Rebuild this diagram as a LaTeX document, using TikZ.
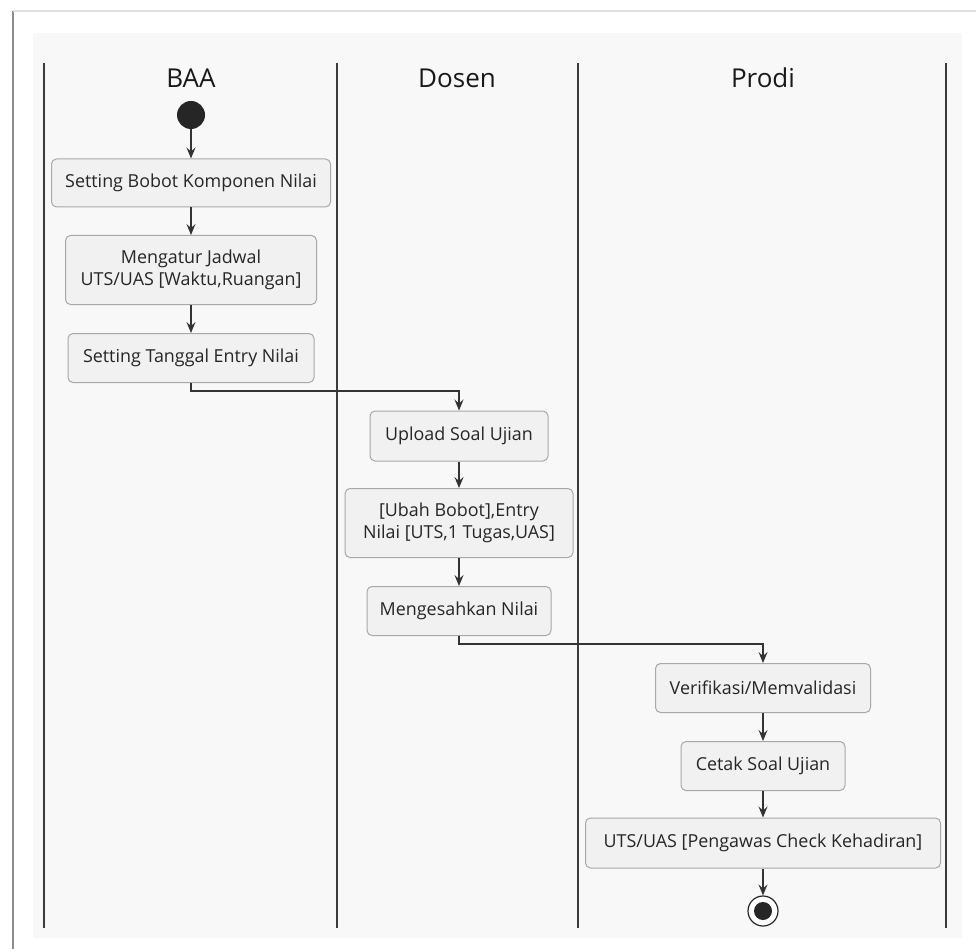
\documentclass[tikz,border=0pt]{standalone}
\usepackage{fontspec}
\setmainfont{Open Sans}
\usetikzlibrary{arrows.meta}
\definecolor{panelbg}{HTML}{F8F8F8}
\definecolor{boxbg}{HTML}{F1F1F1}
\definecolor{boxline}{HTML}{A8A8A8}
\definecolor{laneline}{HTML}{3C3C3C}
\definecolor{flowline}{HTML}{333333}
\begin{document}
\begin{tikzpicture}[x=1pt,y=-1pt,
  activity/.style={draw=boxline,fill=boxbg,rounded corners=5pt,line width=1pt,
    font=\fontsize{17.9}{22}\selectfont,text=black!85,align=center,
    inner xsep=0pt,inner ysep=0pt},
  flow/.style={draw=flowline,line width=1.2pt,-{Stealth[length=11pt,width=9pt,inset=4pt]}},
  lane/.style={draw=laneline,line width=2.8pt},
  title/.style={font=\fontsize{26}{30}\selectfont,text=black!90}]
\useasboundingbox (0,0) rectangle (976,949);
\fill[white] (0,0) rectangle (976,949);
% frame and panel
\draw[black!45,line width=2.5pt] (13,11) -- (13,949);
\draw[black!12,line width=1.2pt] (13,11) -- (976,11);
\fill[panelbg] (33,33) rectangle (962,938);

% swimlanes
\foreach \x in {44,337,578,946}
  \draw[lane] (\x,63) -- (\x,928);
\node[title] (tbaa) at (191,78) {BAA};
\node[title] (tdosen) at (457,78) {Dosen};
\node[title] (tprodi) at (763,78) {Prodi};

% BAA
\node[circle,fill=black!85,minimum size=28pt,inner sep=0pt] (start) at (191,115) {};
\node[activity,minimum width=279pt,minimum height=48pt] (b1) at (191,183) {Setting Bobot Komponen Nilai};
\node[activity,minimum width=251pt,minimum height=69pt] (b2) at (191,270) {Mengatur Jadwal\\UTS/UAS [Waktu,Ruangan]};
\node[activity,minimum width=246pt,minimum height=49pt] (b3) at (191,358) {Setting Tanggal Entry Nilai};

% Dosen
\node[activity,minimum width=178pt,minimum height=50pt] (d1) at (459,436) {Upload Soal Ujian};
\node[activity,minimum width=228pt,minimum height=69pt] (d2) at (459,523) {[Ubah Bobot],Entry\\Nilai [UTS,1 Tugas,UAS]};
\node[activity,minimum width=184pt,minimum height=49pt] (d3) at (459,611) {Mengesahkan Nilai};

% Prodi
\node[activity,minimum width=215pt,minimum height=49pt] (p1) at (763,688) {Verifikasi/Memvalidasi};
\node[activity,minimum width=164pt,minimum height=49pt] (p2) at (763,766) {Cetak Soal Ujian};
\node[activity,minimum width=355pt,minimum height=50pt] (p3) at (763,843) {UTS/UAS [Pengawas Check Kehadiran]};
\node[circle,draw=black!85,line width=1.2pt,fill=white,minimum size=30pt,inner sep=0pt] (stop) at (763,911) {};
\fill[black!85] (stop.center) circle (9pt);

% flows
\draw[flow] (start) -- (b1);
\draw[flow] (b1) -- (b2);
\draw[flow] (b2) -- (b3);
\draw[flow] (b3.south) -- ++(0,8) -| (d1.north);
\draw[flow] (d1) -- (d2);
\draw[flow] (d2) -- (d3);
\draw[flow] (d3.south) -- ++(0,8) -| (p1.north);
\draw[flow] (p1) -- (p2);
\draw[flow] (p2) -- (p3);
\draw[flow] (p3) -- (stop);
\end{tikzpicture}
\end{document}
